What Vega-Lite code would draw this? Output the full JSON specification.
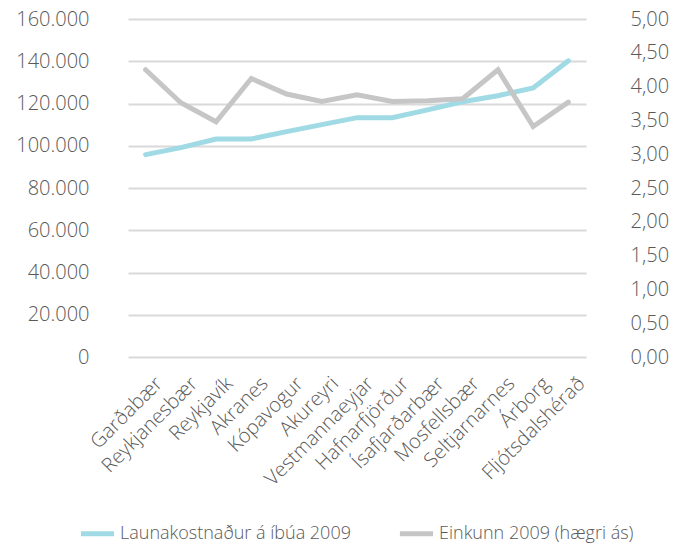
{
  "$schema": "https://vega.github.io/schema/vega-lite/v6.json",
  "width": 511,
  "height": 338,
  "autosize": {"type": "none"},
  "padding": {"left": 104, "top": 19, "right": 68, "bottom": 188},
  "background": "white",
  "config": {
    "view": {"stroke": null},
    "font": "Open Sans",
    "axis": {"labelFont": "Open Sans", "labelColor": "#595959", "labelFontWeight": 300, "domain": false, "ticks": false}
  },
  "data": {
    "values": [
      {"sveitarfelag": "Garðabær", "laun": 95800, "einkunn": 4.25},
      {"sveitarfelag": "Reykjanesbær", "laun": 99100, "einkunn": 3.76},
      {"sveitarfelag": "Reykjavík", "laun": 103200, "einkunn": 3.48},
      {"sveitarfelag": "Akranes", "laun": 103200, "einkunn": 4.12},
      {"sveitarfelag": "Kópavogur", "laun": 106700, "einkunn": 3.89},
      {"sveitarfelag": "Akureyri", "laun": 110000, "einkunn": 3.78},
      {"sveitarfelag": "Vestmannaeyjar", "laun": 113300, "einkunn": 3.88},
      {"sveitarfelag": "Hafnarfjörður", "laun": 113300, "einkunn": 3.78},
      {"sveitarfelag": "Ísafjarðarbær", "laun": 117000, "einkunn": 3.79},
      {"sveitarfelag": "Mosfellsbær", "laun": 120800, "einkunn": 3.82},
      {"sveitarfelag": "Seltjarnarnes", "laun": 123700, "einkunn": 4.25},
      {"sveitarfelag": "Árborg", "laun": 127400, "einkunn": 3.41},
      {"sveitarfelag": "Fljótsdalshérað", "laun": 140200, "einkunn": 3.77}
    ]
  },
  "encoding": {
    "x": {
      "field": "sveitarfelag",
      "type": "nominal",
      "sort": null,
      "scale": {"type": "point", "range": [24, 482]},
      "axis": {"title": null, "labelAngle": -45, "labelFontSize": 20, "labelPadding": 16, "labelOffset": 6, "grid": false}
    },
    "color": {
      "type": "nominal",
      "scale": {
        "domain": ["Launakostnaður á íbúa 2009", "Einkunn 2009 (hægri ás)"],
        "range": ["#A0DAE4", "#C6C6C6"]
      },
      "legend": {
        "title": null,
        "orient": "none",
        "direction": "horizontal",
        "legendX": -26,
        "legendY": 495,
        "symbolType": "stroke",
        "symbolSize": 1100,
        "symbolStrokeWidth": 5,
        "labelFontSize": 18,
        "labelFontWeight": 300,
        "labelColor": "#595959",
        "labelFont": "Open Sans",
        "labelLimit": 0,
        "columnPadding": 38,
        "labelOffset": 3
      }
    }
  },
  "layer": [
    {
      "mark": {"type": "line", "strokeWidth": 5, "strokeCap": "round"},
      "encoding": {
        "y": {
          "field": "laun",
          "type": "quantitative",
          "scale": {"domain": [0, 160000]},
          "axis": {
            "title": null,
            "values": [0, 20000, 40000, 60000, 80000, 100000, 120000, 140000, 160000],
            "labelExpr": "replace(format(datum.value, ','), ',', '.')",
            "labelFontSize": 20,
            "labelPadding": 15,
            "gridColor": "#D9D9D9",
            "gridWidth": 2
          }
        },
        "color": {"datum": "Launakostnaður á íbúa 2009"}
      }
    },
    {
      "mark": {"type": "line", "strokeWidth": 5, "strokeCap": "round"},
      "encoding": {
        "y": {
          "field": "einkunn",
          "type": "quantitative",
          "scale": {"domain": [0, 5]},
          "axis": {
            "title": null,
            "orient": "right",
            "grid": false,
            "values": [0, 0.5, 1, 1.5, 2, 2.5, 3, 3.5, 4, 4.5, 5],
            "labelExpr": "replace(format(datum.value, '.2f'), '.', ',')",
            "labelFontSize": 20,
            "labelPadding": 15
          }
        },
        "color": {"datum": "Einkunn 2009 (hægri ás)"}
      }
    }
  ],
  "resolve": {"scale": {"y": "independent"}}
}
